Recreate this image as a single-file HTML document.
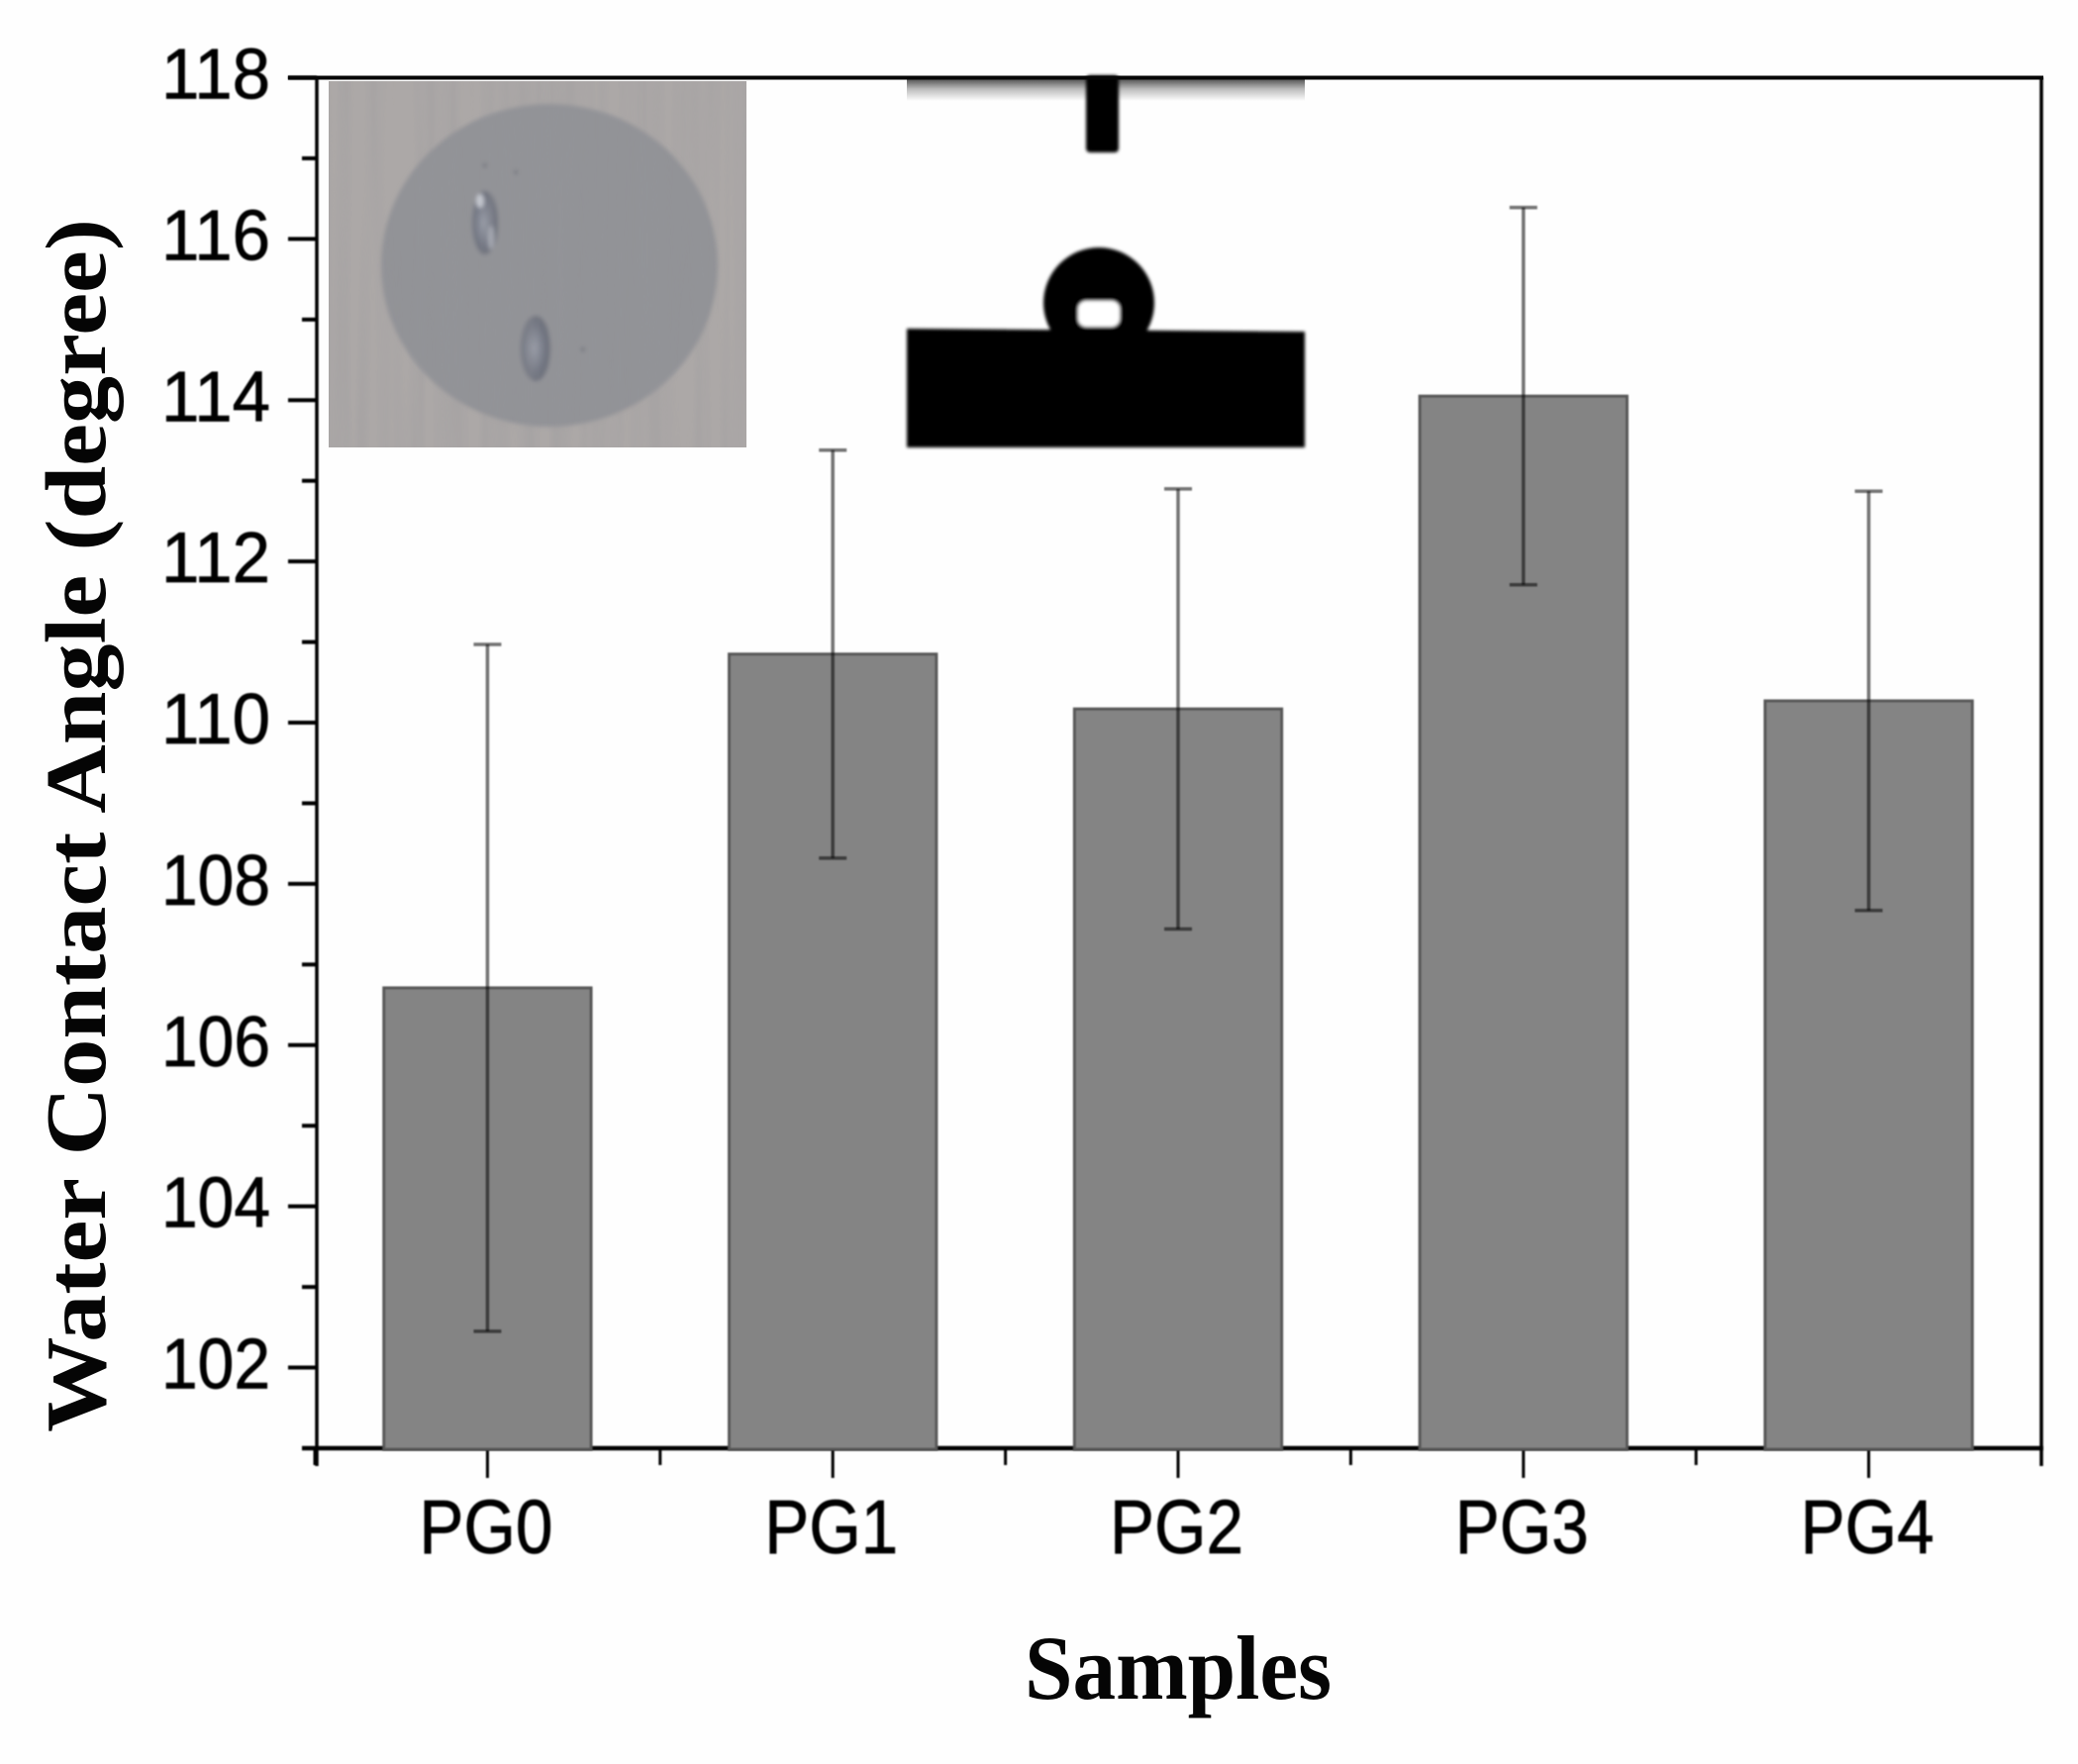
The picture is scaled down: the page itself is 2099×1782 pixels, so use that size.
<!DOCTYPE html>
<html lang="en">
<head>
<meta charset="utf-8">
<title>Water Contact Angle by Sample</title>
<style>
html,body{margin:0;padding:0;background:#fefefe;}
body{width:2099px;height:1782px;overflow:hidden;}
svg{display:block;}
.sans{font-family:"Liberation Sans",Arial,sans-serif;fill:#000;stroke:#000;stroke-width:0.7px;}
.serif{font-family:"Liberation Serif","Times New Roman",serif;font-weight:bold;fill:#050505;}
</style>
</head>
<body>
<svg id="chart" xmlns="http://www.w3.org/2000/svg" width="2099" height="1782" viewBox="0 0 2099 1782">
  <defs>
    <filter id="soft" x="-5%" y="-5%" width="110%" height="110%"><feGaussianBlur stdDeviation="0.7"/></filter>
    <filter id="blur2" x="-10%" y="-10%" width="120%" height="120%"><feGaussianBlur stdDeviation="2"/></filter>
    <filter id="blur1" x="-10%" y="-10%" width="120%" height="120%"><feGaussianBlur stdDeviation="1.6"/></filter>
    <filter id="stripes" x="0" y="0" width="100%" height="100%">
      <feTurbulence type="fractalNoise" baseFrequency="0.07 0.002" numOctaves="2" seed="4"/>
      <feColorMatrix type="matrix" values="0 0 0 0 0.3  0 0 0 0 0.3  0 0 0 0 0.32  1.1 0 0 0 -0.38"/>
    </filter>
    <linearGradient id="needle-shadow" x1="0" y1="0" x2="0" y2="1">
      <stop offset="0" stop-color="#555"/>
      <stop offset="0.45" stop-color="#bbb"/>
      <stop offset="1" stop-color="#fefefe"/>
    </linearGradient>
    <radialGradient id="droplet-shade" cx="0.45" cy="0.5" r="0.6">
      <stop offset="0" stop-color="#9a9ea9"/>
      <stop offset="0.6" stop-color="#747884"/>
      <stop offset="1" stop-color="#686b76"/>
    </radialGradient>
  </defs>
  <rect x="0" y="0" width="2099" height="1782" fill="#fefefe"/>
  <g id="axes" filter="url(#soft)"></g>
  <g id="bars" filter="url(#soft)"></g>
  <g id="errors" filter="url(#soft)"></g>

  <g>
    <rect x="332" y="82" width="422" height="370" fill="#aca8a7"/>
    <g filter="url(#blur2)">
      <ellipse cx="555" cy="268" rx="170" ry="163" fill="#929397"/>
      <ellipse cx="490" cy="225" rx="13" ry="32" fill="url(#droplet-shade)"/>
      <ellipse cx="485" cy="203" rx="4" ry="7" fill="#c4c7cf"/>
      <ellipse cx="496" cy="240" rx="3" ry="12" fill="#a8acb6"/>
      <ellipse cx="541" cy="352" rx="15" ry="33" fill="url(#droplet-shade)"/>
      <circle cx="490" cy="167" r="2" fill="#6f7278"/>
      <circle cx="521" cy="174" r="2" fill="#6f7278"/>
      <circle cx="589" cy="353" r="2" fill="#6f7278"/>
    </g>
    <rect x="332" y="82" width="422" height="370" filter="url(#stripes)" opacity="0.5"/>
  </g>

  <g>
    <rect x="916" y="80" width="402" height="22" fill="url(#needle-shadow)"/>
    <g filter="url(#blur1)">
      <rect x="1097" y="76" width="33" height="78" rx="4" fill="#050505"/>
      <polygon points="916,332 1318,335 1318,452 916,452" fill="#030303"/>
      <ellipse cx="1110" cy="306" rx="56" ry="56" fill="#060606"/>
      <rect x="1089" y="304" width="42" height="26" rx="8" fill="#ffffff"/>
    </g>
  </g>

  <rect x="291" y="76.5" width="1773" height="4" fill="#060606"/>

  <text id="y-title" class="serif" font-size="87" textLength="1226" lengthAdjust="spacingAndGlyphs" transform="translate(106 1447) rotate(-90)">Water Contact Angle (degree)</text>
  <text id="x-title" class="serif" font-size="92" x="1035" y="1716" textLength="310" lengthAdjust="spacingAndGlyphs">Samples</text>
</svg>

<script>
// Chart data
const categories = ['PG0', 'PG1', 'PG2', 'PG3', 'PG4'];
const meanValues = [106.71, 110.85, 110.17, 114.05, 110.27];
const errorValues = [4.26, 2.53, 2.73, 2.34, 2.60];
const yTickLabels = [102, 104, 106, 108, 110, 112, 114, 116, 118];
const yMinorTicks = [101, 103, 105, 107, 109, 111, 113, 115, 117];

const yDomainMin = 101;
const yDomainMax = 118;

function yScale(v) {
  return 78.5 + (yDomainMax - v) * (1463 - 78.5) / (yDomainMax - yDomainMin);
}
function xScale(i) {
  return 492.4 + i * 348.8;
}

const NS = 'http://www.w3.org/2000/svg';
function make(tag, parent, props) {
  const el = document.createElementNS(NS, tag);
  for (const k in props) el.setAttribute(k, props[k]);
  parent.appendChild(el);
  return el;
}

const axes = document.getElementById('axes');
const bars = document.getElementById('bars');
const errors = document.getElementById('errors');
const LEFT = 320;
const RIGHT = 2062;
const BASE = yScale(yDomainMin);

// Spines
const leftSpine = make('line', axes, {x1: LEFT, x2: LEFT, y1: 78, y2: 1481, stroke: '#060606', 'stroke-width': 3.5});


const rightSpine = make('line', axes, {x1: RIGHT, x2: RIGHT, y1: 78, y2: 1481, stroke: '#060606', 'stroke-width': 3.5});


const bottomSpine = make('line', axes, {x1: 305, x2: RIGHT + 2, y1: BASE, y2: BASE, stroke: '#060606', 'stroke-width': 4.5});



// Y ticks
yTickLabels.forEach(function (v) {
  const y = yScale(v);
  const tick = make('line', axes, {x1: 291, x2: LEFT, y1: y, y2: y, stroke: '#060606', 'stroke-width': 4});
  
  
  const label = make('text', axes, {x: 163, y: y + 21, 'font-size': 72, textLength: 110, lengthAdjust: 'spacingAndGlyphs', class: 'sans'});
  
  
  label.textContent = String(v);
});
yMinorTicks.forEach(function (v) {
  const y = yScale(v);
  const tick = make('line', axes, {x1: 305, x2: LEFT, y1: y, y2: y, stroke: '#060606', 'stroke-width': 4});
  
  
});

// X ticks and labels
categories.forEach(function (c, i) {
  const x = xScale(i);
  const tick = make('line', axes, {x1: x, x2: x, y1: BASE, y2: 1493, stroke: '#060606', 'stroke-width': 3});
  
  
  const label = make('text', axes, {x: x - 69, y: 1569, 'font-size': 77, textLength: 135, lengthAdjust: 'spacingAndGlyphs', class: 'sans'});
  
  
  label.textContent = c;
});
for (let i = 0; i <= categories.length; i++) {
  const x = xScale(i - 0.5);
  const tick = make('line', axes, {x1: x, x2: x, y1: BASE, y2: 1480, stroke: '#060606', 'stroke-width': 3});
  
  
}

// Bars and error bars
const barHalf = 0.3 * 348.8;
meanValues.forEach(function (v, i) {
  const x = xScale(i);
  const top = yScale(v);
  const bar = make('rect', bars, {x: x - barHalf, y: top, width: 2 * barHalf, height: BASE + 1 - top, fill: '#848484', stroke: '#565656', 'stroke-width': 3});
  
  

  const hi = yScale(v + errorValues[i]);
  const lo = yScale(v - errorValues[i]);
  const stem = make('line', errors, {x1: x, x2: x, y1: hi, y2: lo, stroke: '#000', 'stroke-opacity': 0.55, 'stroke-width': 3.5});
  
  
  const capTop = make('line', errors, {x1: x - 14, x2: x + 14, y1: hi, y2: hi, stroke: '#000', 'stroke-opacity': 0.55, 'stroke-width': 3.5});
  
  
  const capBottom = make('line', errors, {x1: x - 14, x2: x + 14, y1: lo, y2: lo, stroke: '#000', 'stroke-opacity': 0.55, 'stroke-width': 3.5});
  
  
});
</script>
</body>
</html>
